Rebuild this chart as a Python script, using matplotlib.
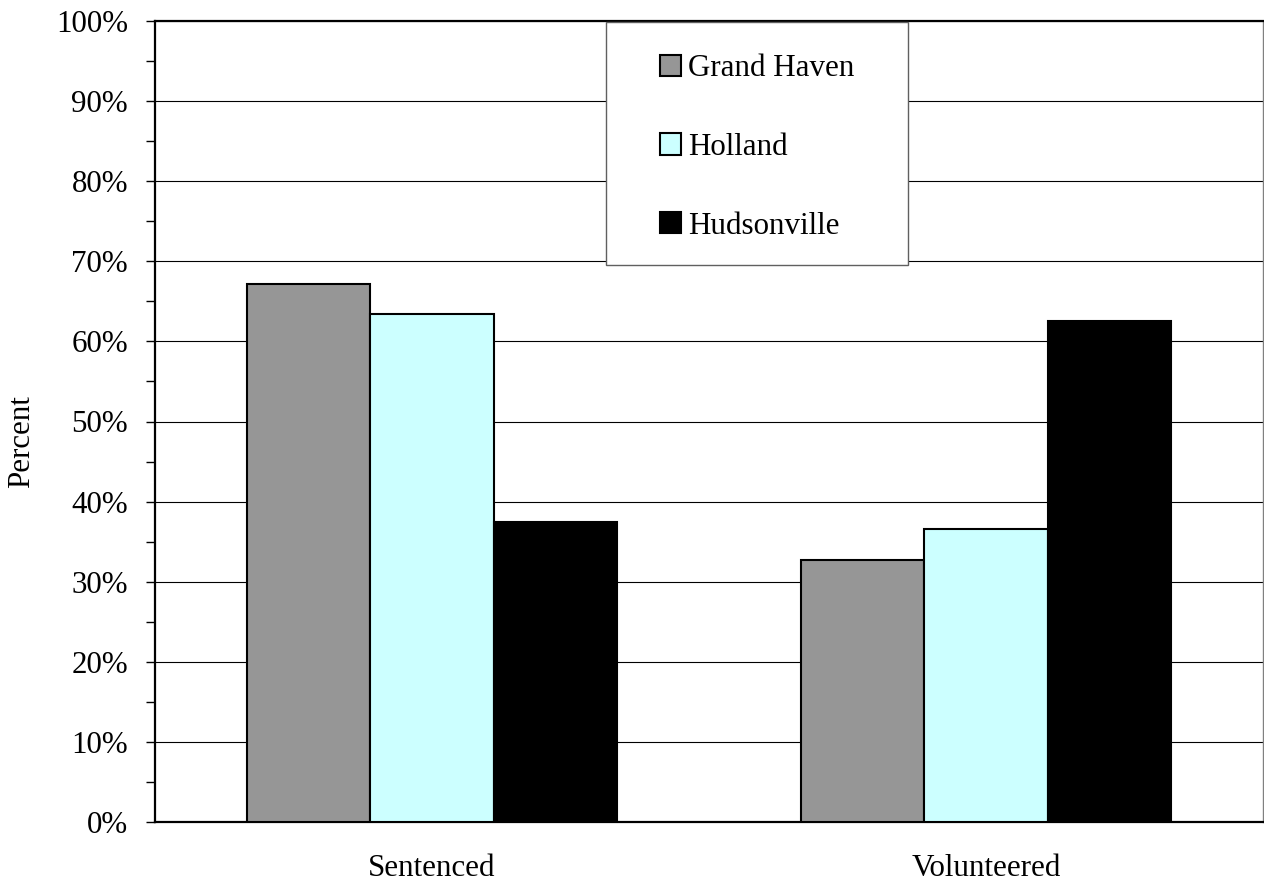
import matplotlib
matplotlib.use("Agg")
import matplotlib.pyplot as plt
from matplotlib.patches import Rectangle
from matplotlib.ticker import MultipleLocator, PercentFormatter
import numpy as np

categories = ["Sentenced", "Volunteered"]
series_names = ["Grand Haven", "Holland", "Hudsonville"]
grand_haven = [67.2, 32.7]
holland = [63.4, 36.6]
hudsonville = [37.4, 62.5]
colors = ["#969696", "#CCFFFF", "#000000"]

plt.rcParams['font.family'] = ['Liberation Serif', 'DejaVu Serif']
FS = 22.3

W, H = 1264, 884
fig = plt.figure(figsize=(W / 100, H / 100), dpi=100)
ax = fig.add_axes([155 / W, 1 - 822 / H, (1263 - 155) / W, (822 - 21) / H])

x = np.arange(len(categories))
bw = 0.6667 / 3
for i, (vals, name, c) in enumerate(zip([grand_haven, holland, hudsonville], series_names, colors)):
    ax.bar(x + (i - 1) * bw, vals, width=bw, color=c, edgecolor="black", linewidth=1.5,
           label=name, zorder=3)

ax.set_xlim(-0.5, 1.5)
ax.set_ylim(0, 100)
ax.yaxis.set_major_locator(MultipleLocator(10))
ax.yaxis.set_minor_locator(MultipleLocator(5))
ax.yaxis.set_major_formatter(PercentFormatter(decimals=0))
ax.set_xticks(x)
ax.set_xticklabels(categories)
ax.tick_params(axis='x', length=0, pad=23, labelsize=FS)
ax.tick_params(axis='y', which='both', length=6.5, width=1, direction='out', pad=13, labelsize=FS)
ax.grid(axis='y', which='major', color='black', linewidth=0.8, zorder=0)
ax.set_axisbelow(True)

for s in ['left', 'bottom', 'top']:
    ax.spines[s].set_color('black')
    ax.spines[s].set_linewidth(1.6)
ax.spines['right'].set_color('#808080')
ax.spines['right'].set_linewidth(1.0)

ax.set_ylabel("Percent", fontsize=FS)
ax.yaxis.set_label_coords(36 / W, 0.5, transform=fig.transFigure)

# legend box
bx0, by0, bx1, by1 = 606, 22, 908, 265
rect = Rectangle((bx0 / W, 1 - by1 / H), (bx1 - bx0) / W, (by1 - by0) / H,
                 transform=fig.transFigure, facecolor='white', edgecolor='#606060',
                 linewidth=1.0, zorder=5)
fig.add_artist(rect)
leg = ax.legend(loc='center', bbox_to_anchor=((bx0 + bx1) / 2 / W, 1 - ((by0 + by1) / 2 + 4) / H),
                bbox_transform=fig.transFigure, frameon=False, fontsize=FS,
                handlelength=0.69, handleheight=0.69, handletextpad=0.23,
                labelspacing=1.6, borderpad=0)
leg.set_zorder(6)
fig.add_artist(leg)

fig.savefig("out.png", dpi=100)
